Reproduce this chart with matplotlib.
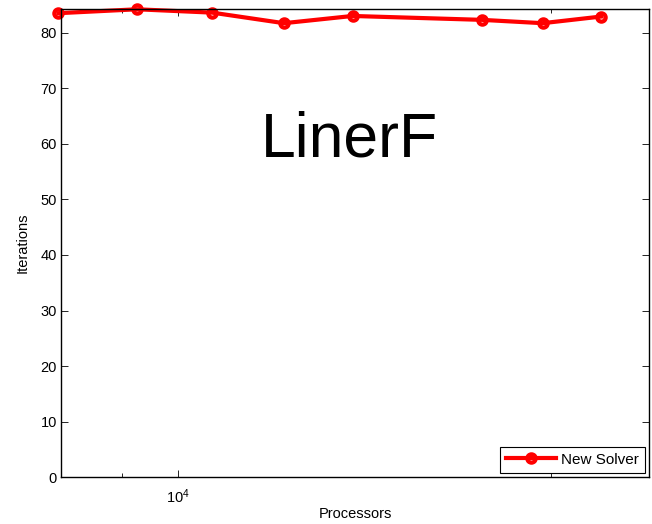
import numpy as np
import matplotlib.pyplot as plt
from matplotlib.ticker import FixedLocator, NullFormatter

plt.rcParams['font.family'] = ['Liberation Sans', 'DejaVu Sans']

processors = [8000, 9261, 10648, 12167, 13824, 17576, 19683, 21952]
iterations = [83.5, 84.2, 83.6, 81.7, 83.0, 82.3, 81.7, 82.9]

fig = plt.figure(figsize=(6.52, 5.24), dpi=100)
ax = fig.add_axes([0.0936, 0.0891, 0.9023, 0.8937])

ax.plot(processors, iterations, color='red', linewidth=3, marker='o',
        markersize=6, markerfacecolor='none', markeredgewidth=3,
        label='New Solver', clip_on=False)

ax.set_xscale('log')
ax.set_xlim(8040, 24000)
ax.set_ylim(0, 84.25)
ax.set_yticks(np.arange(0, 81, 10))
ax.xaxis.set_major_locator(FixedLocator([1e4]))
ax.xaxis.set_minor_locator(FixedLocator([9000, 20000]))
ax.xaxis.set_minor_formatter(NullFormatter())

ax.tick_params(which='both', direction='in', top=True, right=True,
               labelsize=10.5, width=0.6)
ax.tick_params(which='major', length=5)
ax.tick_params(which='minor', length=3)
ax.tick_params(axis='x', pad=7)
ax.tick_params(axis='y', pad=3)
for s in ax.spines.values():
    s.set_linewidth(1.0)

ax.set_xlabel('Processors', fontsize=10.5, labelpad=1)
ax.set_ylabel('Iterations', fontsize=10.5, labelpad=8)

ax.text(0.49, 0.72, 'LinerF', transform=ax.transAxes, fontsize=45,
        ha='center', va='center')

leg = ax.legend(loc='lower right', fontsize=11, fancybox=False,
                edgecolor='black', framealpha=1, borderpad=0.4,
                handlelength=3.3, handletextpad=0.3, borderaxespad=0.3)
leg.get_frame().set_linewidth(0.8)

fig.savefig('out.png', dpi=100)
